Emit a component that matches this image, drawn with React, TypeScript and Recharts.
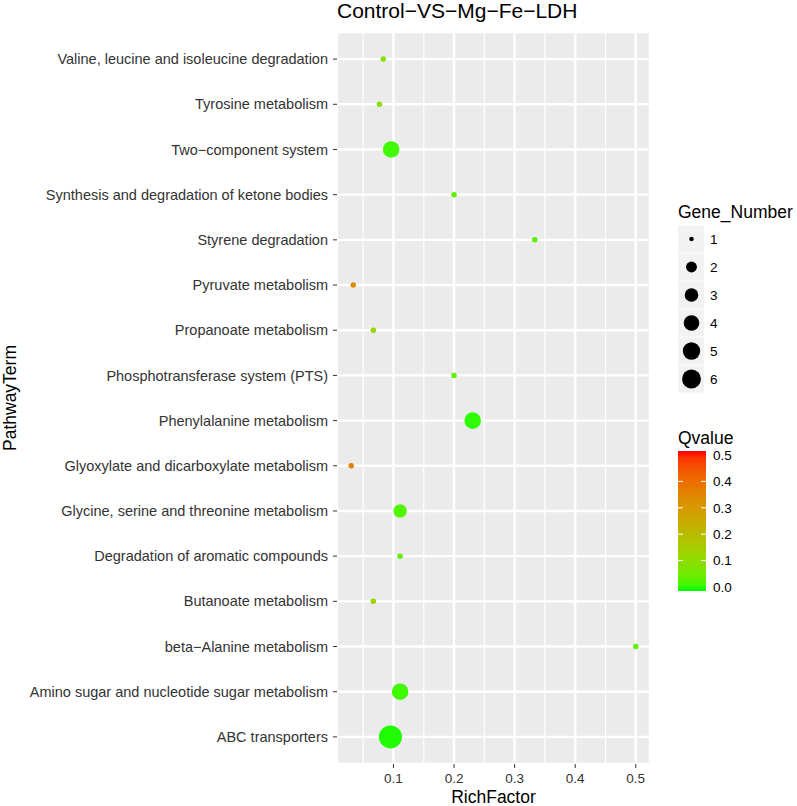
import {
  ScatterChart,
  Scatter,
  XAxis,
  YAxis,
  CartesianGrid,
  ReferenceLine,
} from "recharts";

// bottom to top, as ggplot lays out the factor
const PATHWAYS = [
  "ABC transporters",
  "Amino sugar and nucleotide sugar metabolism",
  "beta−Alanine metabolism",
  "Butanoate metabolism",
  "Degradation of aromatic compounds",
  "Glycine, serine and threonine metabolism",
  "Glyoxylate and dicarboxylate metabolism",
  "Phenylalanine metabolism",
  "Phosphotransferase system (PTS)",
  "Propanoate metabolism",
  "Pyruvate metabolism",
  "Styrene degradation",
  "Synthesis and degradation of ketone bodies",
  "Two−component system",
  "Tyrosine metabolism",
  "Valine, leucine and isoleucine degradation",
];
const RICH = [0.095, 0.111, 0.5, 0.0667, 0.111, 0.111, 0.0303, 0.2308, 0.2, 0.0667, 0.0336, 0.3333, 0.2, 0.0962, 0.0769, 0.0833];
const GENES = [6, 3, 1, 1, 1, 2, 1, 3, 1, 1, 1, 1, 1, 3, 1, 1];
const QVAL = [0.005, 0.02, 0.04, 0.13, 0.05, 0.03, 0.35, 0.01, 0.04, 0.12, 0.33, 0.04, 0.04, 0.02, 0.1, 0.1];

const X_TICKS = [0.1, 0.2, 0.3, 0.4, 0.5];
const X_MINOR = [0.05, 0.15, 0.25, 0.35, 0.45];
const X_DOMAIN = [0.0068, 0.5235];
const GENE_BREAKS = [1, 2, 3, 4, 5, 6];
const Q_TICKS = [0, 0.1, 0.2, 0.3, 0.4, 0.5];
const Q_DOMAIN = [0, 0.5];

const FONT = '"Liberation Sans", Arial, Helvetica, sans-serif';
const W = 797;
const H = 806;

// --- colour: ggplot-style gradient in CIELAB, green -> red ---
const lin = (c: number) => {
  c /= 255;
  return c <= 0.04045 ? c / 12.92 : Math.pow((c + 0.055) / 1.055, 2.4);
};
const unlin = (c: number) => {
  const v = c <= 0.0031308 ? 12.92 * c : 1.055 * Math.pow(c, 1 / 2.4) - 0.055;
  return Math.round(Math.min(1, Math.max(0, v)) * 255);
};
const WP = [0.95047, 1, 1.08883];
function toLab([r, g, b]: number[]) {
  const R = lin(r), G = lin(g), B = lin(b);
  const xyz = [
    (0.4124 * R + 0.3576 * G + 0.1805 * B) / WP[0],
    (0.2126 * R + 0.7152 * G + 0.0722 * B) / WP[1],
    (0.0193 * R + 0.1192 * G + 0.9505 * B) / WP[2],
  ];
  const f = xyz.map((t) => (t > 0.008856 ? Math.cbrt(t) : 7.787 * t + 16 / 116));
  return [116 * f[1] - 16, 500 * (f[0] - f[1]), 200 * (f[1] - f[2])];
}
function fromLab([L, a, b]: number[]) {
  const fy = (L + 16) / 116;
  const fx = fy + a / 500;
  const fz = fy - b / 200;
  const inv = (t: number) => (t * t * t > 0.008856 ? t * t * t : (t - 16 / 116) / 7.787);
  const X = inv(fx) * WP[0], Y = inv(fy) * WP[1], Z = inv(fz) * WP[2];
  const R = 3.2406 * X - 1.5372 * Y - 0.4986 * Z;
  const G = -0.9689 * X + 1.8758 * Y + 0.0415 * Z;
  const B = 0.0557 * X - 0.204 * Y + 1.057 * Z;
  return `rgb(${unlin(R)},${unlin(G)},${unlin(B)})`;
}
const LOW = toLab([0, 255, 0]);
const HIGH = toLab([255, 0, 0]);
function qColor(q: number) {
  const t = Math.min(1, Math.max(0, (q - Q_DOMAIN[0]) / (Q_DOMAIN[1] - Q_DOMAIN[0])));
  return fromLab(LOW.map((v, i) => v + (HIGH[i] - v) * t));
}

// area-proportional size like scale_size(range = c(1, 6))
function diameter(g: number) {
  const mm = 1 + 5 * Math.sqrt((g - 1) / 5);
  return 2 + 3.5 * mm;
}

const data = PATHWAYS.map((name, i) => ({
  idx: i + 1,
  name,
  rich: RICH[i],
  genes: GENES[i],
  q: QVAL[i],
}));

const Dot = (props: any) => {
  const { cx, cy, payload } = props;
  if (cx == null || cy == null) return null;
  return <circle cx={cx} cy={cy} r={diameter(payload.genes) / 2} fill={qColor(payload.q)} />;
};

function Legends() {
  const barTop = 451;
  const barBottom = 591;
  const q0 = 587;
  const q1 = 455;
  const qy = (q: number) => q0 - ((q - Q_DOMAIN[0]) / (Q_DOMAIN[1] - Q_DOMAIN[0])) * (q0 - q1);
  const stops = Array.from({ length: 21 }, (_, i) => i / 20);
  return (
    <svg
      width={W}
      height={H}
      style={{ position: "absolute", left: 0, top: 0, pointerEvents: "none" }}
      fontFamily={FONT}
    >
      <text x={337} y={18} fontSize={21} fill="#000">
        Control−VS−Mg−Fe−LDH
      </text>

      <text x={678} y={218} fontSize={17.5} fill="#000">
        Gene_Number
      </text>
      {GENE_BREAKS.map((g, i) => {
        const cy = 239 + i * 28;
        return (
          <g key={g}>
            <rect x={678} y={cy - 13.5} width={26} height={27} fill="#F2F2F2" />
            <circle cx={691.5} cy={cy} r={(diameter(g) * 0.82) / 2} fill="#000" />
            <text x={710} y={cy} dy="0.36em" fontSize={13.5} fill="#000">
              {g}
            </text>
          </g>
        );
      })}

      <text x={678} y={444} fontSize={17.5} fill="#000">
        Qvalue
      </text>
      <defs>
        <linearGradient id="qgrad" x1="0" y1="1" x2="0" y2="0">
          {stops.map((s) => (
            <stop key={s} offset={s} stopColor={qColor(Q_DOMAIN[0] + s * (Q_DOMAIN[1] - Q_DOMAIN[0]))} />
          ))}
        </linearGradient>
      </defs>
      <rect x={678} y={barTop} width={28} height={barBottom - barTop} fill="url(#qgrad)" />
      {Q_TICKS.map((q) => (
        <g key={q}>
          {q > Q_DOMAIN[0] && q < Q_DOMAIN[1] && (
            <>
              <line x1={678} x2={683} y1={qy(q)} y2={qy(q)} stroke="#fff" strokeWidth={1} />
              <line x1={701} x2={706} y1={qy(q)} y2={qy(q)} stroke="#fff" strokeWidth={1} />
            </>
          )}
          <text x={713} y={qy(q)} dy="0.36em" fontSize={13.5} fill="#000">
            {q.toFixed(1)}
          </text>
        </g>
      ))}
    </svg>
  );
}

export default function App() {
  return (
    <div style={{ position: "absolute", left: 0, top: 0, width: W, height: H, background: "#fff", fontFamily: FONT }}>
      <ScatterChart width={W} height={H} margin={{ top: 32, right: 147, bottom: 0, left: 0 }}>
        <CartesianGrid fill="#EBEBEB" stroke="#FFFFFF" strokeWidth={2.4} />
        <XAxis
          type="number"
          dataKey="rich"
          domain={X_DOMAIN}
          ticks={X_TICKS}
          allowDataOverflow
          height={42}
          tickSize={4}
          tickMargin={5}
          axisLine={false}
          tickLine={{ stroke: "#333" }}
          tick={{ fontSize: 13.5, fill: "#333", fontFamily: FONT }}
          tickFormatter={(v: number) => v.toFixed(1)}
          label={{ value: "RichFactor", position: "insideBottom", offset: 3, fontSize: 17.5, fill: "#000", fontFamily: FONT }}
        />
        <YAxis
          type="number"
          dataKey="idx"
          domain={[0.4, PATHWAYS.length + 0.6]}
          ticks={PATHWAYS.map((_, i) => i + 1)}
          interval={0}
          allowDataOverflow
          width={337}
          tickSize={4}
          tickMargin={5}
          axisLine={false}
          tickLine={{ stroke: "#333" }}
          tick={{ fontSize: 14.5, fill: "#333", fontFamily: FONT }}
          tickFormatter={(v: number) => PATHWAYS[v - 1] ?? ""}
          label={{
            value: "PathwayTerm",
            angle: -90,
            position: "insideLeft",
            offset: 10,
            fontSize: 17.5,
            fill: "#000",
            fontFamily: FONT,
            style: { textAnchor: "middle" },
          }}
        />
        {X_MINOR.map((v) => (
          <ReferenceLine key={v} x={v} stroke="#FFFFFF" strokeWidth={1.2} />
        ))}
        <Scatter data={data} shape={Dot} isAnimationActive={false} />
      </ScatterChart>
      <Legends />
    </div>
  );
}
